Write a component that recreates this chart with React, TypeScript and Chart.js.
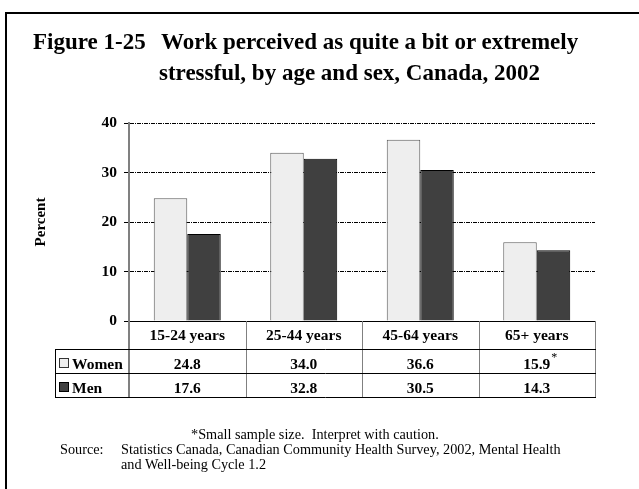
import React, { useEffect, useRef } from 'react';
import { Chart, registerables } from 'chart.js';

Chart.register(...registerables);

// ---- data ----
const categories = ['15-24 years', '25-44 years', '45-64 years', '65+ years'];
const seriesNames = ['Women', 'Men'];
const womenValues = [24.8, 34.0, 36.6, 15.9];
const menValues = [17.6, 32.8, 30.5, 14.3];
const womenFlags = ['', '', '', '*'];
const menFlags = ['', '', '', ''];
const yTickValues = [0, 10, 20, 30, 40];

const FONT = "'Liberation Serif', 'Times New Roman', serif";
const WOMEN_FILL = '#eeeeee';
const WOMEN_BORDER = '#5a5a5a';
const MEN_FILL = '#404040';
const MEN_BORDER = '#000000';

const tablePlugin = {
  id: 'dataTable',
  afterDraw(chart: any) {
    const { ctx, chartArea } = chart;
    const x = chart.scales.x;
    const n = categories.length;
    const top = chartArea.bottom;
    const headerBottom = top + 28;
    const rowH = 24;
    const rows = [
      { name: seriesNames[0], vals: womenValues, flags: womenFlags, fill: WOMEN_FILL, stroke: '#333333' },
      { name: seriesNames[1], vals: menValues, flags: menFlags, fill: MEN_FILL, stroke: '#000000' },
    ];
    const tableLeft = 55;
    const bottom = headerBottom + rowH * rows.length;
    const bounds: number[] = [];
    for (let i = 0; i < n - 1; i++) bounds.push((x.getPixelForValue(i) + x.getPixelForValue(i + 1)) / 2);
    bounds.push(chartArea.right);

    const line = (x1: number, y1: number, x2: number, y2: number) => {
      ctx.beginPath();
      ctx.moveTo(x1, y1);
      ctx.lineTo(x2, y2);
      ctx.stroke();
    };

    ctx.save();
    // vertical separators
    ctx.strokeStyle = '#808080';
    ctx.lineWidth = 1;
    bounds.forEach((b) => {
      const xx = Math.round(b) + 0.5;
      line(xx, top, xx, bottom);
    });
    ctx.lineWidth = 2;
    line(chartArea.left, top, chartArea.left, bottom);
    // horizontal lines
    ctx.strokeStyle = '#000000';
    ctx.lineWidth = 1;
    for (let r = 0; r <= rows.length; r++) {
      const yy = Math.round(headerBottom + rowH * r) + 0.5;
      line(tableLeft, yy, Math.round(chartArea.right) + 1, yy);
    }
    line(tableLeft + 0.5, headerBottom, tableLeft + 0.5, bottom + 0.5);

    // rows
    rows.forEach((row, r) => {
      const rowTop = headerBottom + rowH * r;
      const baseline = rowTop + 20;
      // legend key
      ctx.fillStyle = row.fill;
      ctx.fillRect(tableLeft + 4, rowTop + 9, 9, 9);
      ctx.strokeStyle = row.stroke;
      ctx.lineWidth = 1;
      ctx.strokeRect(tableLeft + 4.5, rowTop + 9.5, 9, 9);
      ctx.fillStyle = '#000000';
      ctx.font = `bold 15.5px ${FONT}`;
      ctx.textAlign = 'left';
      ctx.textBaseline = 'alphabetic';
      ctx.fillText(row.name, tableLeft + 17, baseline);
      // values
      row.vals.forEach((v, i) => {
        const cx = x.getPixelForValue(i);
        const s = v.toFixed(1);
        ctx.font = `bold 15.5px ${FONT}`;
        ctx.textAlign = 'center';
        ctx.fillText(s, cx, baseline);
        if (row.flags[i]) {
          const w = ctx.measureText(s).width;
          ctx.font = `12px ${FONT}`;
          ctx.textAlign = 'left';
          ctx.fillText(row.flags[i], cx + w / 2 + 1, baseline - 8);
        }
      });
    });
    ctx.restore();
  },
};

const titleStyle = (left: number, top: number): React.CSSProperties => ({
  position: 'absolute',
  left,
  top,
  fontFamily: FONT,
  fontWeight: 'bold',
  fontSize: 23,
  lineHeight: '23px',
  whiteSpace: 'nowrap',
  color: '#000',
  margin: 0,
});

const noteStyle = (left: number, top: number): React.CSSProperties => ({
  position: 'absolute',
  left,
  top,
  fontFamily: FONT,
  fontSize: 14.25,
  lineHeight: '14px',
  whiteSpace: 'pre',
  color: '#000',
  margin: 0,
});

export default function App() {
  const ref = useRef<HTMLCanvasElement>(null);

  useEffect(() => {
    if (!ref.current) return;
    const chart = new Chart(ref.current, {
      type: 'bar',
      data: {
        labels: categories,
        datasets: [
          {
            label: seriesNames[0],
            data: womenValues,
            backgroundColor: WOMEN_FILL,
            borderColor: WOMEN_BORDER,
            borderWidth: 1,
            categoryPercentage: 0.575,
            barPercentage: 1,
          },
          {
            label: seriesNames[1],
            data: menValues,
            backgroundColor: MEN_FILL,
            borderColor: MEN_BORDER,
            borderWidth: 1,
            categoryPercentage: 0.575,
            barPercentage: 1,
          },
        ],
      },
      options: {
        responsive: false,
        maintainAspectRatio: false,
        animation: false,
        devicePixelRatio: 1,
        layout: { padding: { top: 123, right: 44, left: 0, bottom: 0 } },
        plugins: {
          legend: { display: false },
          title: { display: false },
          tooltip: { enabled: false },
        },
        scales: {
          x: {
            grid: { display: false, drawTicks: false },
            border: { display: true, color: '#000000', width: 1 },
            ticks: {
              color: '#000000',
              padding: 6,
              font: { family: FONT, size: 15.5, weight: 'bold' },
            },
            afterFit: (s: any) => {
              s.height = 168;
            },
          },
          y: {
            min: yTickValues[0],
            max: yTickValues[yTickValues.length - 1],
            afterBuildTicks: (s: any) => {
              s.ticks = yTickValues.map((v) => ({ value: v }));
            },
            grid: {
              color: '#000000',
              lineWidth: 1,
              drawTicks: true,
              tickLength: 5,
              tickColor: '#000000',
              tickBorderDash: [],
            },
            border: { display: true, color: '#808080', width: 2, dash: [4, 1, 1, 1] },
            ticks: {
              color: '#000000',
              padding: 7,
              font: { family: FONT, size: 15.5, weight: 'bold' },
            },
            title: {
              display: true,
              text: 'Percent',
              color: '#000000',
              font: { family: FONT, size: 15, weight: 'bold' },
              padding: { top: 32, bottom: 0 },
            },
            afterFit: (s: any) => {
              s.width = 129;
            },
          },
        },
      },
      plugins: [tablePlugin],
    });
    return () => chart.destroy();
  }, []);

  return (
    <div
      style={{
        position: 'absolute',
        left: 0,
        top: 0,
        width: 639,
        height: 489,
        overflow: 'hidden',
        background: '#ffffff',
      }}
    >
      <div
        style={{
          position: 'absolute',
          left: 5,
          top: 12,
          width: 1000,
          height: 1000,
          borderLeft: '2px solid #000',
          borderTop: '2px solid #000',
        }}
      />
      <canvas
        ref={ref}
        width={639}
        height={489}
        style={{ position: 'absolute', left: 0, top: 0, width: 639, height: 489 }}
      />
      <div style={titleStyle(33, 29.5)}>Figure 1-25</div>
      <div style={titleStyle(161, 29.5)}>Work perceived as quite a bit or extremely</div>
      <div style={titleStyle(159, 61)}>stressful, by age and sex, Canada, 2002</div>
      <div style={noteStyle(191, 427.3)}>*Small sample size.  Interpret with caution.</div>
      <div style={noteStyle(60, 442.3)}>Source:</div>
      <div style={noteStyle(121, 442.3)}>
        Statistics Canada, Canadian Community Health Survey, 2002, Mental Health
      </div>
      <div style={noteStyle(121, 457.3)}>and Well-being Cycle 1.2</div>
    </div>
  );
}
